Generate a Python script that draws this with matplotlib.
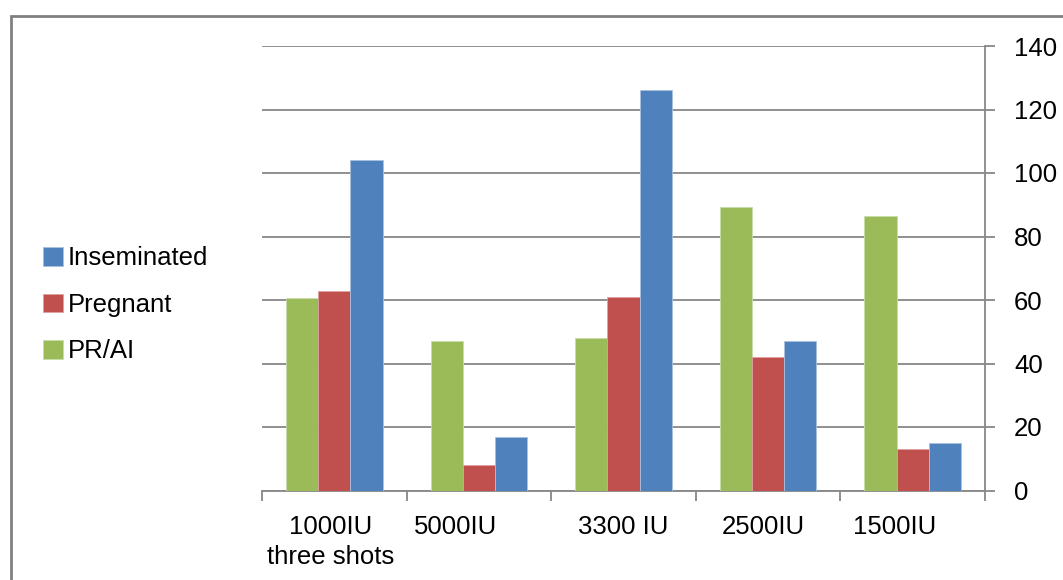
import matplotlib
matplotlib.use("Agg")
import matplotlib.pyplot as plt
import numpy as np
from matplotlib.patches import Rectangle
import matplotlib.transforms as mtransforms

plt.rcParams['font.family'] = ['Liberation Sans', 'DejaVu Sans']

categories = ["1000IU\nthree shots", "5000IU", "3300 IU", "2500IU", "1500IU"]
pr_ai = [60.6, 47.0, 48.0, 89.2, 86.6]
pregnant = [62.9, 8.0, 61.0, 42.0, 13.2]
inseminated = [104.1, 16.9, 126.1, 47.1, 14.9]
yticks = [0, 20, 40, 60, 80, 100, 120, 140]

c_green = '#9BBB59'
c_red = '#C0504D'
c_blue = '#4F81BD'
grid_c = '#878787'

W, H = 1063, 580
fig = plt.figure(figsize=(W / 100, H / 100), dpi=100)
ax = fig.add_axes([262 / W, 1 - 490.5 / H, (985 - 262) / W, (490.5 - 46) / H])

n = len(categories)
x = np.arange(n)
bw = 0.667 / 3
ax.bar(x - bw, pr_ai, bw, color=c_green, edgecolor='#C9DBA9', linewidth=0.6, label='PR/AI', zorder=3)
ax.bar(x, pregnant, bw, color=c_red, edgecolor='#DDA09E', linewidth=0.6, label='Pregnant', zorder=3)
ax.bar(x + bw, inseminated, bw, color=c_blue, edgecolor='#A9C0DE', linewidth=0.6, label='Inseminated', zorder=3)

ax.set_xlim(-0.5, n - 0.5)
ax.set_ylim(0, 140)
ax.yaxis.tick_right()
ax.set_yticks(yticks)
ax.yaxis.grid(True, color=grid_c, linewidth=1.3, zorder=0)
ax.set_axisbelow(True)
for s in ['top', 'left']:
    ax.spines[s].set_visible(False)
ax.spines['right'].set_color(grid_c)
ax.spines['right'].set_linewidth(1.3)
ax.spines['bottom'].set_color(grid_c)
ax.spines['bottom'].set_linewidth(1.3)
ax.tick_params(axis='y', direction='out', length=7, width=1.3, color=grid_c,
               labelsize=18.5, pad=14)

# category boundary ticks
ax.set_xticks(np.arange(-0.5, n, 1.0))
ax.set_xticklabels([])
ax.tick_params(axis='x', direction='out', length=7, width=1.3, color=grid_c)

# category labels (slightly offset as in the reference)
offsets = [-0.025, -0.16, 0.0, -0.035, -0.125]
trans = mtransforms.blended_transform_factory(ax.transData, fig.transFigure)
for i, (lab, off) in enumerate(zip(categories, offsets)):
    fig.text(i + off, 1 - 515 / H, lab, transform=trans, ha='center', va='top',
             fontsize=18.5, linespacing=1.3)

# legend
handles, labels = ax.get_legend_handles_labels()
leg = fig.legend(handles[::-1], labels[::-1], loc='upper left',
                 bbox_to_anchor=(33 / W, 1 - 236 / H), frameon=False,
                 fontsize=18.5, handlelength=0.75, handleheight=0.75,
                 handletextpad=0.2, labelspacing=0.88, borderaxespad=0)

# outer border
fig.patches.append(Rectangle((11 / W, -0.05), 1.2, 1 - 16 / H + 0.05,
                             transform=fig.transFigure, fill=False,
                             edgecolor='#808080', linewidth=2, zorder=0))

fig.savefig('out.png', dpi=100)
